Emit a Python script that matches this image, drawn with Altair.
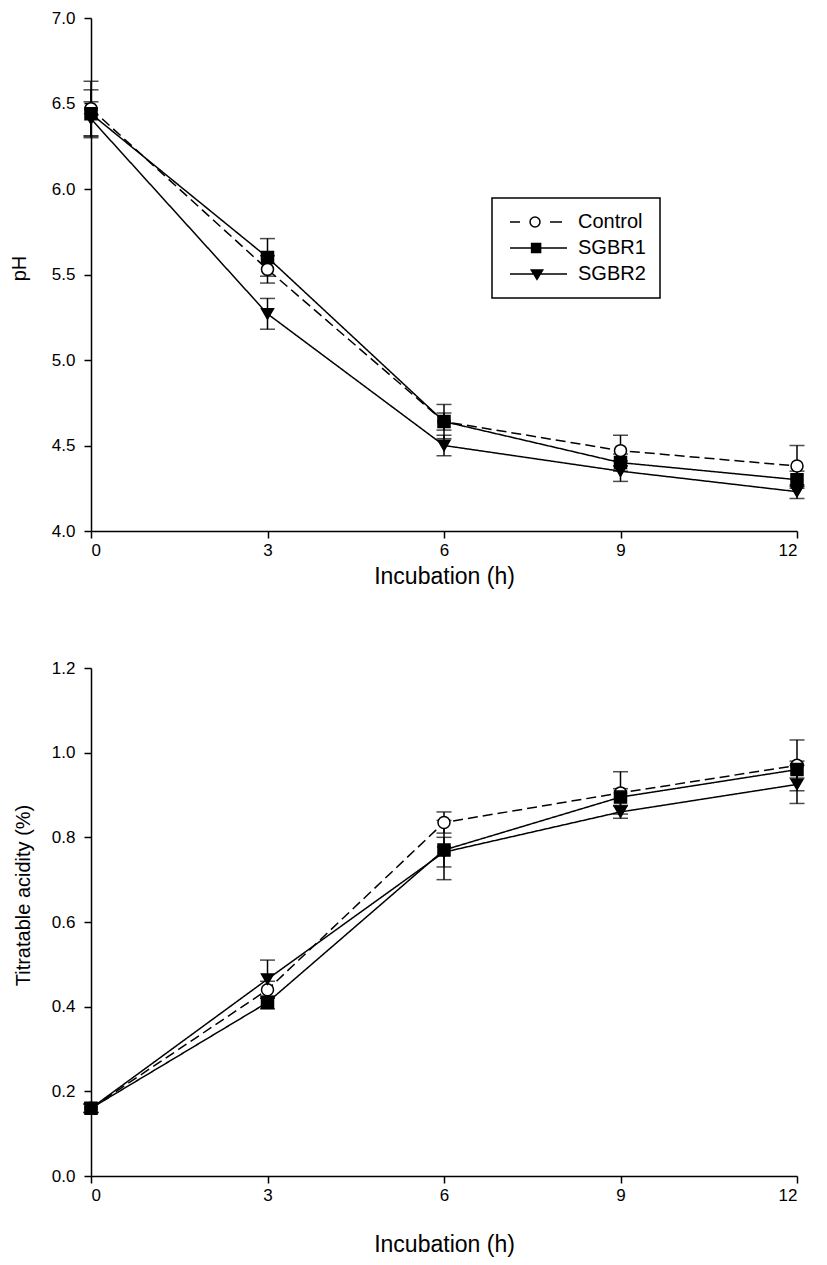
import altair as alt
import pandas as pd

hours = [0, 3, 6, 9, 12]
series_names = ["Control", "SGBR1", "SGBR2"]

ph_control = [6.47, 5.53, 4.64, 4.47, 4.38]
ph_control_err = [0.16, 0.08, 0.10, 0.09, 0.12]
ph_sgbr1 = [6.44, 5.60, 4.64, 4.40, 4.30]
ph_sgbr1_err = [0.14, 0.11, 0.05, 0.05, 0.05]
ph_sgbr2 = [6.41, 5.27, 4.50, 4.35, 4.23]
ph_sgbr2_err = [0.10, 0.09, 0.06, 0.06, 0.04]

ta_control = [0.16, 0.44, 0.835, 0.905, 0.97]
ta_control_err = [0.01, 0.02, 0.025, 0.05, 0.06]
ta_sgbr1 = [0.16, 0.41, 0.77, 0.895, 0.96]
ta_sgbr1_err = [0.01, 0.015, 0.07, 0.02, 0.02]
ta_sgbr2 = [0.16, 0.465, 0.765, 0.86, 0.925]
ta_sgbr2_err = [0.01, 0.045, 0.035, 0.015, 0.045]

ph_ticks = [4.0, 4.5, 5.0, 5.5, 6.0, 6.5, 7.0]
ta_ticks = [0.0, 0.2, 0.4, 0.6, 0.8, 1.0, 1.2]

FONT = "Liberation Sans"

# legend symbols: line + marker paths (unit = sqrt(size)/2)
legend_paths = [
    "M-1,0 L0.67,0 M5.67,0 L7.67,0 M2.34,0 A0.83,0.83 0 1,0 4.0,0 A0.83,0.83 0 1,0 2.34,0 Z",
    "M-1,0 L8.5,0 M2.6,-0.75 L4.1,-0.75 L4.1,0.75 L2.6,0.75 Z",
    "M-1,0 L8.5,0 M2.55,-0.65 L4.45,-0.65 L3.5,0.9 Z",
]


def build_df(vals, errs):
    rows = []
    for name, v, e in zip(series_names, vals, errs):
        for h, y, er in zip(hours, v, e):
            rows.append({"hour": h, "value": y, "lo": y - er, "hi": y + er, "series": name})
    return pd.DataFrame(rows)


def panel(df, ytitle, ydomain, yticks, legx, legy, titlex, titley, height, xtitlepad):
    x = alt.X("hour:Q", scale=alt.Scale(domain=[0, 12], nice=False, zero=False),
              axis=alt.Axis(values=hours, title="Incubation (h)", labelPadding=4,
                            titlePadding=xtitlepad, format="d", titleFontSize=23))
    y = alt.Y("value:Q", scale=alt.Scale(domain=ydomain, nice=False, zero=False),
              axis=alt.Axis(values=yticks, format=".1f", title=ytitle, labelPadding=9,
                            titleX=titlex, titleY=titley, titleBaseline="middle"))
    base = alt.Chart(df)
    layers = []
    dashes = {"Control": [10, 5], "SGBR1": [1, 0], "SGBR2": [1, 0]}
    for name in series_names:
        layers.append(
            base.transform_filter(alt.datum.series == name)
            .mark_line(color="black", strokeWidth=1.5, strokeDash=dashes[name])
            .encode(x=x, y=y)
        )
    for name in series_names:
        b = base.transform_filter(alt.datum.series == name)
        layers.append(b.mark_rule(color="black", strokeWidth=1.5).encode(x=x, y="lo:Q", y2="hi:Q"))
        layers.append(b.mark_tick(color="black", orient="horizontal", size=15, thickness=1.5)
                      .encode(x=x, y="lo:Q"))
        layers.append(b.mark_tick(color="black", orient="horizontal", size=15, thickness=1.5)
                      .encode(x=x, y="hi:Q"))
    shapes = {"Control": "circle", "SGBR1": "square", "SGBR2": "triangle-down"}
    fills = {"Control": "white", "SGBR1": "black", "SGBR2": "black"}
    for name in series_names:
        layers.append(
            base.transform_filter(alt.datum.series == name)
            .mark_point(shape=shapes[name], filled=True, fill=fills[name], stroke="black",
                        strokeWidth=1.5, size=144, opacity=1)
            .encode(x=x, y=y)
        )
    leg = alt.Legend(title=None, orient="none", legendX=legx, legendY=legy,
                     symbolStrokeColor="black", symbolStrokeWidth=1.5)
    # legend carrier layer (draws nothing)
    layers.append(
        base.transform_filter("false")
        .mark_point(filled=True, strokeWidth=1.5, size=144, opacity=1)
        .encode(
            x=x, y=y,
            shape=alt.Shape("series:N", scale=alt.Scale(domain=series_names, range=legend_paths),
                            legend=leg),
            fill=alt.Fill("series:N", scale=alt.Scale(domain=series_names, range=["white", "black", "black"]),
                          legend=leg),
            stroke=alt.Stroke("series:N", scale=alt.Scale(domain=series_names, range=["black", "black", "black"]),
                              legend=leg),
        )
    )
    return alt.layer(*layers).properties(width=706, height=height)


top = panel(build_df([ph_control, ph_sgbr1, ph_sgbr2], [ph_control_err, ph_sgbr1_err, ph_sgbr2_err]),
            "pH", [4, 7], ph_ticks, 401, 180, -72, 250, 513, 7)
bottom = panel(build_df([ta_control, ta_sgbr1, ta_sgbr2], [ta_control_err, ta_sgbr1_err, ta_sgbr2_err]),
               "Titratable acidity (%)", [0, 1.2], ta_ticks, 434, 265, -68, 227, 508, 30)

chart = (
    alt.vconcat(top, bottom, spacing=71)
    .properties(padding={"left": 9, "top": 9, "right": 5, "bottom": 5}, background="white")
    .configure_view(stroke=None)
    .configure_axis(grid=False, domainColor="black", tickColor="black", labelColor="black",
                    titleColor="black", domainWidth=1.5, tickWidth=1.5, tickSize=7,
                    labelFont=FONT, titleFont=FONT, labelFontSize=17, titleFontSize=20,
                    titleFontWeight="normal")
    .configure_legend(labelFont=FONT, labelFontSize=20, labelColor="black", strokeColor="black",
                      strokeWidth=1.5, padding=14, rowPadding=6, labelOffset=52,
                      symbolStrokeColor="black", symbolStrokeWidth=1.5, symbolSize=144,
                      fillColor="white")
)

chart.save("out.html", embed_options={"renderer": "svg", "actions": False})
